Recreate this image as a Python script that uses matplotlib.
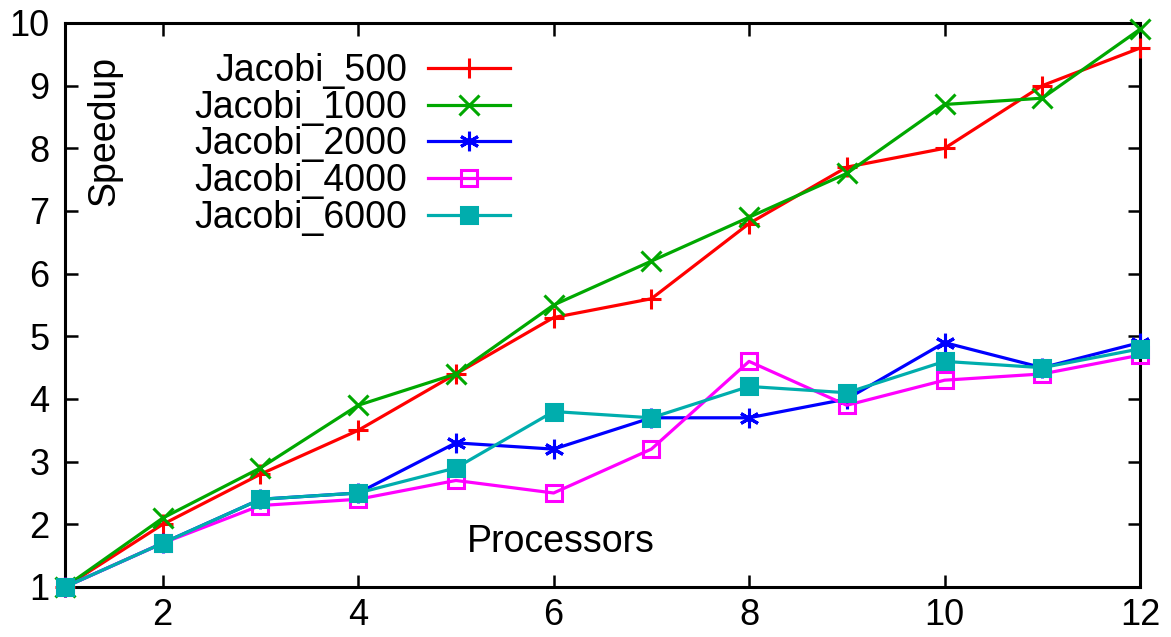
import matplotlib
matplotlib.use("Agg")
import matplotlib.pyplot as plt

# data
processors = [1, 2, 3, 4, 5, 6, 7, 8, 9, 10, 11, 12]
jacobi_500 = [1.0, 2.0, 2.8, 3.5, 4.4, 5.3, 5.6, 6.8, 7.7, 8.0, 9.0, 9.6]
jacobi_1000 = [1.0, 2.1, 2.9, 3.9, 4.4, 5.5, 6.2, 6.9, 7.6, 8.7, 8.8, 9.9]
jacobi_2000 = [1.0, 1.7, 2.4, 2.5, 3.3, 3.2, 3.7, 3.7, 4.0, 4.9, 4.5, 4.9]
jacobi_4000 = [1.0, 1.7, 2.3, 2.4, 2.7, 2.5, 3.2, 4.6, 3.9, 4.3, 4.4, 4.7]
jacobi_6000 = [1.0, 1.7, 2.4, 2.5, 2.9, 3.8, 3.7, 4.2, 4.1, 4.6, 4.5, 4.8]

x_ticks = [2, 4, 6, 8, 10, 12]
y_ticks = [1, 2, 3, 4, 5, 6, 7, 8, 9, 10]

plt.rcParams['font.family'] = ['Liberation Sans', 'DejaVu Sans']
plt.rcParams['font.size'] = 26

fig = plt.figure(figsize=(11.71, 6.37), dpi=100)
ax = fig.add_axes([0.0555, 0.0785, 0.918, 0.8854])

series = [
    ("Jacobi_500", jacobi_500, '#ff0000', '+', 'full'),
    ("Jacobi_1000", jacobi_1000, '#00a800', 'x', 'full'),
    ("Jacobi_2000", jacobi_2000, '#0000ff', (6, 2, 0), 'full'),
    ("Jacobi_4000", jacobi_4000, '#ff00ff', 's', 'none'),
    ("Jacobi_6000", jacobi_6000, '#00adad', 's', 'full'),
]

for label, vals, color, marker, fill in series:
    ms = 12 if marker == 's' else 14
    ax.plot(processors, vals, color=color, linewidth=2.3, marker=marker,
            markersize=ms, markeredgewidth=2.2, fillstyle=fill,
            markerfacecolor=color if fill == 'full' else 'none',
            label=label, clip_on=False, zorder=3)

ax.set_xlim(1, 12)
ax.set_ylim(1, 10)
ax.set_xticks(x_ticks)
ax.set_yticks(y_ticks)
ax.tick_params(direction='in', length=9, width=1.8, top=True, right=True, labelsize=26)
ax.tick_params(axis='x', pad=8)
ax.tick_params(axis='y', pad=11)
for s in ax.spines.values():
    s.set_linewidth(2.2)

ax.text(0.037, 0.808, "Speedup", rotation=90, ha='center', va='center',
        transform=ax.transAxes, fontsize=27)
ax.text(0.461, 0.079, "Processors", ha='center', va='center',
        transform=ax.transAxes, fontsize=27)

ax.legend(loc='upper right', bbox_to_anchor=(0.414, 0.947), markerfirst=False,
          frameon=False, handlelength=2.2, handletextpad=0.55,
          labelspacing=0.02, borderpad=0, borderaxespad=0, fontsize=27)

fig.savefig("out.png", dpi=100)
